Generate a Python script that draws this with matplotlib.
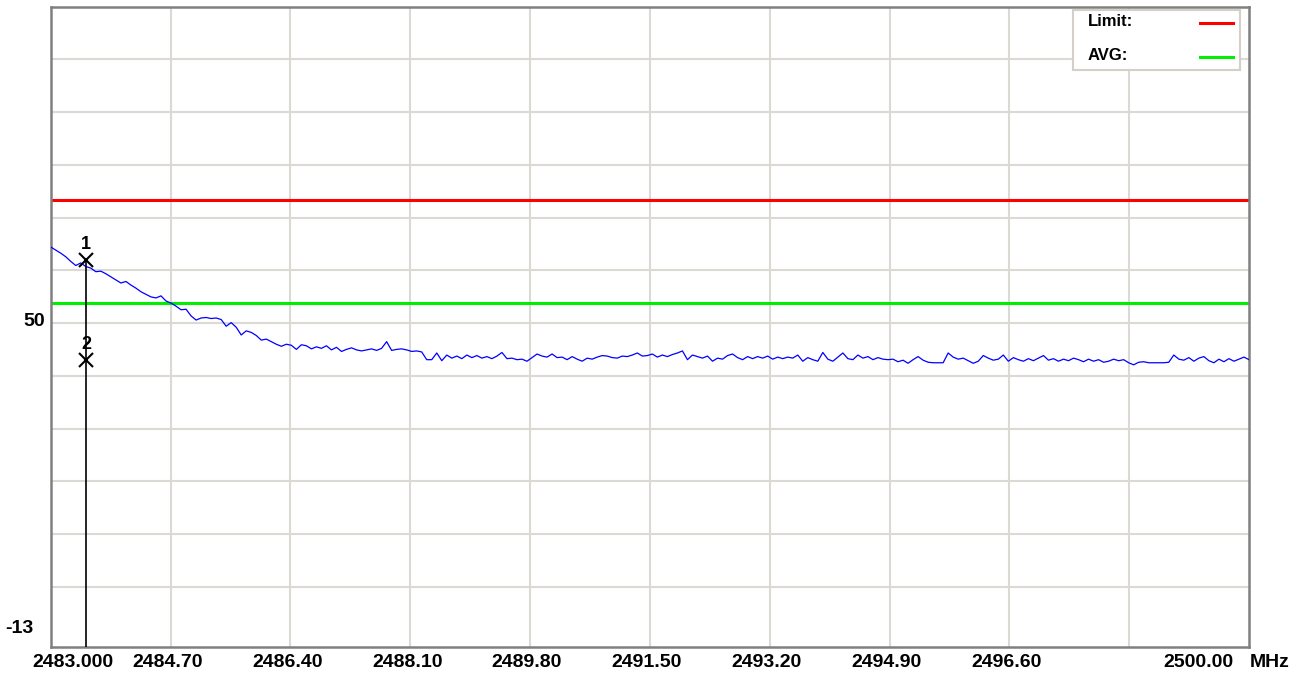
import matplotlib
matplotlib.use("Agg")
import matplotlib.pyplot as plt
import matplotlib.patches as patches
import numpy as np

# sweep settings
f_start, f_stop = 2483.0, 2500.0
ref_top, ref_bottom = 111.5, -13.0

limit_level = 74.0
avg_level = 54.0

# measured trace (dBuV/m), one value per sweep point
level = [
    64.8, 64.2, 63.6, 62.9, 62.0, 61.2, 61.7, 61.0, 60.7, 60.0,
    60.1, 59.6, 59.0, 58.4, 57.8, 58.1, 57.4, 56.8, 56.1, 55.6,
    55.1, 54.9, 55.3, 54.3, 53.9, 53.3, 52.6, 52.7, 51.4, 50.6,
    51.0, 51.1, 50.9, 51.0, 50.7, 49.4, 50.1, 49.2, 47.7, 48.5,
    48.2, 47.6, 46.7, 46.9, 46.4, 45.9, 45.5, 45.9, 45.7, 44.9,
    45.8, 45.6, 45.0, 45.4, 45.1, 45.6, 44.8, 45.3, 44.5, 44.9,
    45.2, 44.8, 44.6, 44.8, 45.0, 44.7, 45.1, 46.4, 44.7, 44.9,
    45.0, 44.8, 44.5, 44.6, 44.4, 42.9, 42.9, 44.2, 42.7, 43.8,
    43.2, 43.6, 43.1, 43.8, 43.3, 43.7, 43.2, 43.5, 43.1, 43.6,
    44.3, 43.1, 43.2, 42.9, 43.0, 42.6, 43.3, 44.0, 43.6, 43.4,
    44.0, 43.3, 43.4, 42.9, 43.5, 43.0, 42.6, 43.2, 43.0, 43.4,
    43.7, 43.6, 43.3, 43.2, 43.6, 43.5, 43.8, 44.2, 43.6, 43.7,
    44.0, 43.4, 43.8, 43.5, 43.9, 44.2, 44.6, 42.9, 43.8, 43.5,
    43.2, 43.6, 42.6, 43.2, 43.0, 43.7, 44.0, 43.3, 42.9, 43.5,
    43.1, 43.5, 43.2, 43.6, 43.0, 43.4, 43.1, 43.4, 43.2, 43.8,
    42.6, 43.3, 42.9, 42.6, 44.3, 43.0, 42.6, 43.4, 44.2, 43.1,
    42.9, 43.8, 43.2, 43.5, 42.9, 43.3, 43.0, 42.9, 43.0, 42.5,
    42.8, 42.2, 42.9, 43.5, 42.8, 42.4, 42.3, 42.3, 42.3, 44.2,
    43.4, 43.0, 43.2, 42.7, 42.2, 42.6, 43.7, 43.2, 42.8, 43.0,
    43.8, 42.6, 43.3, 42.9, 42.6, 43.1, 42.7, 43.2, 43.7, 42.8,
    43.1, 42.6, 43.0, 42.7, 43.2, 42.9, 42.5, 43.0, 42.6, 42.9,
    42.4, 42.6, 43.0, 42.7, 42.9, 42.3, 41.9, 42.4, 42.5, 42.3,
    42.3, 42.3, 42.3, 42.4, 43.8, 43.0, 42.8, 43.3, 42.6, 43.2,
    43.5, 42.7, 42.3, 43.0, 42.5, 43.1, 42.6, 43.0, 43.4, 42.9,
]
freq = np.linspace(f_start, f_stop, len(level))

# markers: (label, MHz, level)
markers = [("1", 2483.50, 62.3), ("2", 2483.50, 42.9)]

x_labels = ["2483.000", "2484.70", "2486.40", "2488.10", "2489.80",
            "2491.50", "2493.20", "2494.90", "2496.60", "2500.00"]
x_label_pos = [2483.0, 2484.7, 2486.4, 2488.1, 2489.8,
               2491.5, 2493.2, 2494.9, 2496.6, 2500.0]

GRID = "#dcd9d4"
FRAME = "#808080"
FONT = ["Liberation Sans", "DejaVu Sans"]
FS = 14

fig = plt.figure(figsize=(13.04, 6.75), dpi=100)
ax = fig.add_axes([50.7 / 1304, 27.7 / 675, 1198.3 / 1304, 640.6 / 675])
ax.set_xlim(f_start, f_stop)
ax.set_ylim(ref_bottom, ref_top)

# grid: 10 vertical divisions, horizontal lines every ~10.26 dB around 50
for k in range(1, 10):
    ax.axvline(f_start + 1.7 * k, color=GRID, lw=1.5, zorder=0)
y_step = (ref_top - 50) / 6
for k in range(-5, 6):
    ax.axhline(50 + k * y_step, color=GRID, lw=1.5, zorder=0)

ax.set_xticks([])
ax.set_yticks([])
for sp in ax.spines.values():
    sp.set_color(FRAME)
    sp.set_linewidth(1.8)

ax.axhline(limit_level, color="#ff0000", lw=2.2, zorder=2)
ax.axhline(avg_level, color="#00ee00", lw=2.2, zorder=2)

ax.plot(freq, level, color="#0000ff", lw=0.9, zorder=3)

# marker line and markers
m_f, m_top = markers[0][1], markers[0][2]
ax.plot([m_f, m_f], [ref_bottom, m_top], color="black", lw=1.2, zorder=4)
for name, mf, mv in markers:
    ax.plot(mf, mv, marker="x", ms=10, mew=1.5, color="black", zorder=5)
    ax.annotate(name, (mf, mv), xytext=(0, 15), textcoords="offset pixels",
                ha="center", va="center", fontsize=13, fontweight="bold",
                family=FONT, zorder=6)

# x tick labels
for i, (lab, pos) in enumerate(zip(x_labels, x_label_pos)):
    if i == 0:
        ha, dx = "left", -18
    elif i == len(x_labels) - 1:
        ha, dx = "right", -16
    else:
        ha, dx = "center", -3
    ax.annotate(lab, (pos, ref_bottom), xytext=(dx, -15), textcoords="offset pixels",
                ha=ha, va="center", fontsize=FS, fontweight="bold",
                family=FONT, annotation_clip=False)
ax.annotate("MHz", (f_stop, ref_bottom), xytext=(1, -15), textcoords="offset pixels",
            ha="left", va="center", fontsize=FS, fontweight="bold",
            family=FONT, annotation_clip=False)

# y labels
ax.annotate("50", (f_start, 50), xytext=(-6, 2), textcoords="offset pixels",
            ha="right", va="center", fontsize=FS, fontweight="bold",
            family=FONT, annotation_clip=False)
ax.annotate("-13", (f_start, ref_bottom), xytext=(-17, 19), textcoords="offset pixels",
            ha="right", va="center", fontsize=FS, fontweight="bold",
            family=FONT, annotation_clip=False)

# legend box (top right)
W, H = 1304, 675
def fx(px):
    return px / W
def fy(py):
    return 1 - py / H

box = patches.Rectangle((fx(1072.7), fy(70)), fx(1240) - fx(1072.7), fy(10) - fy(70),
                        transform=fig.transFigure, facecolor="white",
                        edgecolor="#d4d0c8", lw=1.5, zorder=10)
fig.patches.append(box)
for label, color, py in [("Limit:", "#ff0000", 21), ("AVG:", "#00ee00", 55)]:
    fig.text(fx(1088), fy(py), label, ha="left", va="center", fontsize=12,
             fontweight="bold", family=FONT, zorder=11)
    fig.add_artist(plt.Line2D([fx(1200), fx(1233)], [fy(py + 2), fy(py + 2)],
                              transform=fig.transFigure, color=color, lw=2.2, zorder=11))

fig.savefig("out.png", dpi=100)
